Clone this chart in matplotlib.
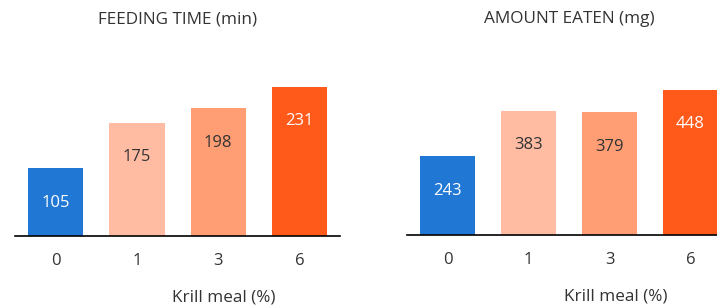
import matplotlib
matplotlib.use("Agg")
import matplotlib.pyplot as plt

# data
krill = ["0", "1", "3", "6"]
feeding_time = [105, 175, 198, 231]
amount_eaten = [243, 383, 379, 448]
bar_colors = ["#2078d4", "#ffbca3", "#ff9d74", "#ff5a19"]
text_colors = ["white", "#333333", "#333333", "white"]

plt.rcParams['font.family'] = ['Open Sans', 'DejaVu Sans']
plt.rcParams['font.size'] = 12

fig = plt.figure(figsize=(7.17, 3.05), dpi=100)

def panel(ax, values, title, ymax):
    x = range(len(krill))
    bars = ax.bar(x, values, width=0.68, color=bar_colors)
    for b, v, c in zip(bars, values, text_colors):
        ax.annotate(str(v), (b.get_x() + b.get_width() / 2, v), xytext=(0, -25),
                    textcoords="offset points", ha="center", va="center",
                    color=c, fontsize=12)
    ax.set_xlim(-0.5, 3.5)
    ax.set_ylim(0, ymax)
    ax.set_xticks(list(x))
    ax.set_xticklabels(krill, color="#333333")
    ax.tick_params(axis="x", length=0, pad=12)
    ax.set_yticks([])
    for s in ["top", "left", "right"]:
        ax.spines[s].set_visible(False)
    ax.spines["bottom"].set_linewidth(1.2)
    ax.set_title(title, pad=26, color="#333333", fontsize=12.3)
    ax.set_xlabel("Krill meal (%)", color="#333333", fontsize=12.3)
    ax.xaxis.set_label_coords(0.643, -0.305)

ax1 = fig.add_axes([15 / 717, 69 / 305, 325 / 717, 176 / 305])
panel(ax1, feeding_time, "FEEDING TIME (min)", 272)

ax2 = fig.add_axes([407 / 717, 70 / 305, 324 / 717, 176 / 305])
panel(ax2, amount_eaten, "AMOUNT EATEN (mg)", 542)

fig.savefig("out.png", dpi=100)
